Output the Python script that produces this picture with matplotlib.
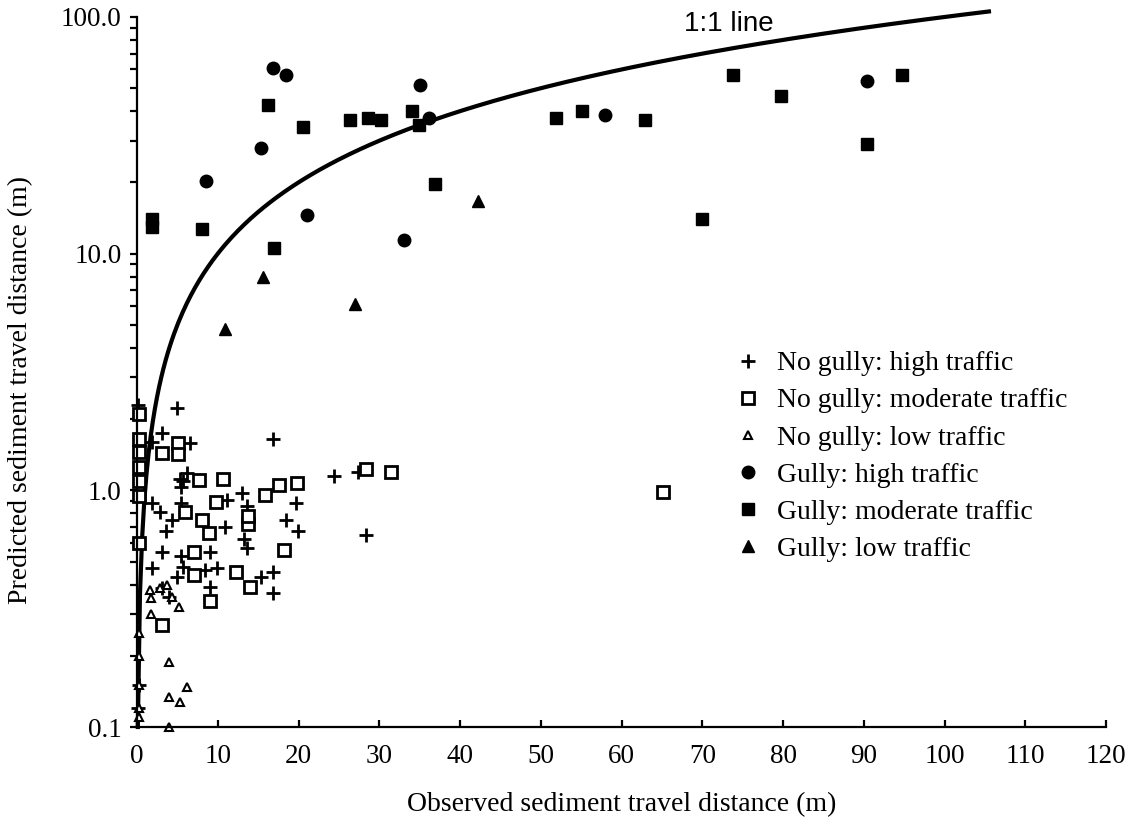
import numpy as np
import matplotlib
matplotlib.use("Agg")
import matplotlib.pyplot as plt
from matplotlib.ticker import FixedLocator, FixedFormatter, LogLocator, NullFormatter

plt.rcParams['font.family'] = ['Liberation Serif', 'DejaVu Serif']

# --- data (observed m, predicted m) ---
ng_high_x = [5.7, 6.2, 5.5, 24.4, 13.0, 11.2, 13.6, 19.7, 1.8, 2.8, 4.3, 5.5, 10.9, 3.6,
             18.5, 19.9, 13.2, 13.6, 3.1, 5.5, 9.0, 1.8, 5.7, 8.4, 9.9, 4.9, 15.4, 16.9,
             16.8, 9.0, 3.9, 3.1, 4.9, 3.1, 1.8, 6.6, 16.9, 5.3, 27.4, 28.4, 0.1, 0.2, 0.1]
ng_high_y = [1.10, 1.18, 1.03, 1.15, 0.97, 0.91, 0.86, 0.88, 0.88, 0.81, 0.75, 0.88, 0.70, 0.67,
             0.75, 0.67, 0.62, 0.57, 0.55, 0.53, 0.55, 0.47, 0.475, 0.46, 0.47, 0.43, 0.43, 0.45,
             0.37, 0.39, 0.355, 0.385, 2.22, 1.75, 1.60, 1.58, 1.64, 1.12, 1.20, 0.65, 2.30, 0.15, 0.12]

ng_mod_x = [7.7, 10.7, 9.8, 15.9, 17.6, 19.8, 5.9, 8.0, 8.9, 13.8, 13.8, 18.2, 7.1, 7.0,
            12.3, 14.0, 9.0, 3.1, 3.1, 5.1, 5.1, 28.4, 31.5, 65.1,
            0.3, 0.3, 0.3, 0.3, 0.3, 0.3, 0.3]
ng_mod_y = [1.11, 1.12, 0.89, 0.96, 1.05, 1.07, 0.81, 0.75, 0.66, 0.72, 0.78, 0.56, 0.55, 0.44,
            0.45, 0.39, 0.34, 0.27, 1.44, 1.58, 1.42, 1.23, 1.19, 0.98,
            2.1, 1.65, 1.45, 1.25, 1.1, 0.95, 0.6]

ng_low_x = [3.75, 2.85, 1.6, 1.7, 4.3, 5.2, 1.7, 3.9, 3.9, 5.3, 6.2, 3.9,
            0.2, 0.2, 0.2, 0.2, 0.3]
ng_low_y = [0.40, 0.385, 0.38, 0.35, 0.355, 0.32, 0.30, 0.188, 0.134, 0.128, 0.148, 0.10,
            0.25, 0.2, 0.15, 0.12, 0.11]

g_high_x = [16.9, 18.5, 35.1, 36.1, 15.3, 8.6, 21.1, 33.1, 57.9, 90.4]
g_high_y = [60.8, 56.9, 51.6, 37.6, 27.9, 20.3, 14.5, 11.4, 38.5, 53.5]

g_mod_x = [16.2, 20.6, 26.4, 28.6, 30.2, 34.0, 34.9, 36.9, 1.9, 1.9, 8.0, 17.0,
           51.9, 55.1, 62.9, 73.8, 79.7, 94.7, 90.4, 70.0]
g_mod_y = [42.4, 34.3, 36.6, 37.6, 36.6, 40.1, 35.0, 19.7, 14.0, 13.0, 12.7, 10.6,
           37.6, 40.2, 36.8, 56.9, 46.3, 57.0, 29.1, 14.0]

g_low_x = [42.2, 15.6, 27.0, 10.9]
g_low_y = [16.7, 8.0, 6.13, 4.81]

line_end = 105.5
one_to_one = np.linspace(0.1, line_end, 400)

fig = plt.figure(figsize=(11.4, 8.32), dpi=100)
ax = fig.add_axes([0.1202, 0.1262, 0.8500, 0.8534])

ax.plot(one_to_one, one_to_one, color='black', lw=3, clip_on=False, zorder=2)

ax.plot(ng_high_x, ng_high_y, '+', color='black', ms=10, mew=2, ls='none',
        label='No gully: high traffic', clip_on=False)
ax.plot(ng_mod_x, ng_mod_y, 's', mfc='white', mec='black', ms=8, mew=2, ls='none',
        label='No gully: moderate traffic', clip_on=False)
ax.plot(ng_low_x, ng_low_y, '^', mfc='white', mec='black', ms=6, mew=1.5, ls='none',
        label='No gully: low traffic', clip_on=False)
ax.plot(g_high_x, g_high_y, 'o', color='black', ms=9, ls='none',
        label='Gully: high traffic', clip_on=False)
ax.plot(g_mod_x, g_mod_y, 's', color='black', ms=9, ls='none',
        label='Gully: moderate traffic', clip_on=False)
ax.plot(g_low_x, g_low_y, '^', color='black', ms=9, ls='none',
        label='Gully: low traffic', clip_on=False)

ax.set_yscale('log')
ax.set_xlim(0, 120)
ax.set_ylim(0.1, 100)
ax.set_xticks(np.arange(0, 121, 10))
ax.yaxis.set_major_locator(FixedLocator([0.1, 1, 10, 100]))
ax.yaxis.set_major_formatter(FixedFormatter(['0.1', '1.0', '10.0', '100.0']))
ax.yaxis.set_minor_locator(LogLocator(base=10, subs=np.arange(2, 10)))
ax.yaxis.set_minor_formatter(NullFormatter())

for s in ['top', 'right']:
    ax.spines[s].set_visible(False)
for s in ['left', 'bottom']:
    ax.spines[s].set_linewidth(1.6)

ax.tick_params(axis='x', direction='in', length=5, width=1.6, labelsize=19.5, pad=12)
ax.tick_params(axis='y', which='both', direction='out', length=5, width=1.6, labelsize=19.5, pad=6)

ax.set_xlabel('Observed sediment travel distance (m)', fontsize=20)
ax.set_ylabel('Predicted sediment travel distance (m)', fontsize=20)
ax.xaxis.set_label_coords(0.5, -0.092)
ax.yaxis.set_label_coords(-0.107, 0.4746)

ax.text(73.3, 93.4, '1:1 line', fontsize=20, family=['Liberation Sans', 'DejaVu Sans'],
        ha='center', va='center')

ax.legend(loc='upper left', bbox_to_anchor=(720 / 1140, 1 - 337 / 832),
          bbox_transform=fig.transFigure, frameon=False, fontsize=20,
          handlelength=1.0, handletextpad=0.55, labelspacing=0.42, borderpad=0)

fig.savefig('out.png', dpi=100)
